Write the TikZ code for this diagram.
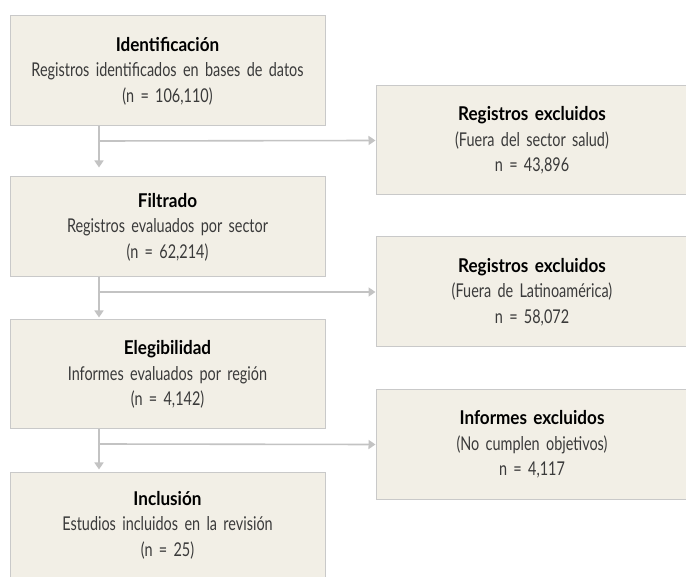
\documentclass[tikz,border=0pt]{standalone}
\usepackage{fontspec}
\setmainfont{Lato}[FakeStretch=0.76, BoldFeatures={FakeStretch=0.9}]
\usetikzlibrary{arrows.meta}
\definecolor{boxfill}{HTML}{F2EFE6}
\definecolor{boxline}{HTML}{C9C9C9}
\definecolor{arrline}{HTML}{C3C3C3}
\definecolor{txt}{HTML}{3A3A3A}
\tikzset{
  stage/.style={draw=boxline, fill=boxfill, line width=1pt, minimum width=315pt,
    text width=300pt, align=center, inner sep=0pt, text=txt,
    font=\fontsize{19}{25.5}\selectfont},
  excl/.style={stage, minimum width=312pt, text width=300pt},
  link/.style={draw=arrline, line width=1.6pt},
  arr/.style={link, -{Triangle[width=9pt,length=7pt]}},
}
\newcommand{\stitle}[1]{\textbf{\color{black}#1}}
\begin{document}
\begin{tikzpicture}[x=1pt,y=-1pt]
    \useasboundingbox (0,0) rectangle (686,577);
    \node[stage, minimum height=110pt] (ident) at (167.5, 71) {\stitle{Identificación}\\Registros identificados en bases de datos\\(n = 106,110)};
    \node[stage, minimum height=100pt] (filt) at (167.5, 227) {\stitle{Filtrado}\\Registros evaluados por sector\\(n = 62,214)};
    \node[stage, minimum height=109pt] (eleg) at (167.5, 374.5) {\stitle{Elegibilidad}\\Informes evaluados por región\\(n = 4,142)};
    \node[stage, minimum height=106pt] (incl) at (167.5, 525) {\stitle{Inclusión}\\Estudios incluidos en la revisión\\(n = 25)};
    \node[excl, minimum height=109pt] (exc1) at (532, 140.5) {\stitle{Registros excluidos}\\(Fuera del sector salud)\\n = 43,896};
    \node[excl, minimum height=110pt] (exc2) at (532, 292) {\stitle{Registros excluidos}\\(Fuera de Latinoamérica)\\n = 58,072};
    \node[excl, minimum height=109pt] (exc3) at (532, 444.5) {\stitle{Informes excluidos}\\(No cumplen objetivos)\\n = 4,117};
    \coordinate (j1) at (99, 141);
    \coordinate (j2) at (99, 292);
    \coordinate (j3) at (99, 444);
    % trunk
    \path[link] (ident.south -| j1) -- (j1);
    \path[arr, shorten >=9pt] (j1) -- (filt.north -| j1);
    \path[link] (filt.south -| j2) -- (j2);
    \path[arr, shorten >=2pt] (j2) -- (eleg.north -| j2);
    \path[link] (eleg.south -| j3) -- (j3);
    \path[arr, shorten >=2pt] (j3) -- (incl.north -| j3);
    % exclusions
    \path[arr] (j1) -- (exc1.west);
    \path[arr] (j2) -- (exc2.west);
    \path[arr] (j3) -- (exc3.west);
\end{tikzpicture}
\end{document}
